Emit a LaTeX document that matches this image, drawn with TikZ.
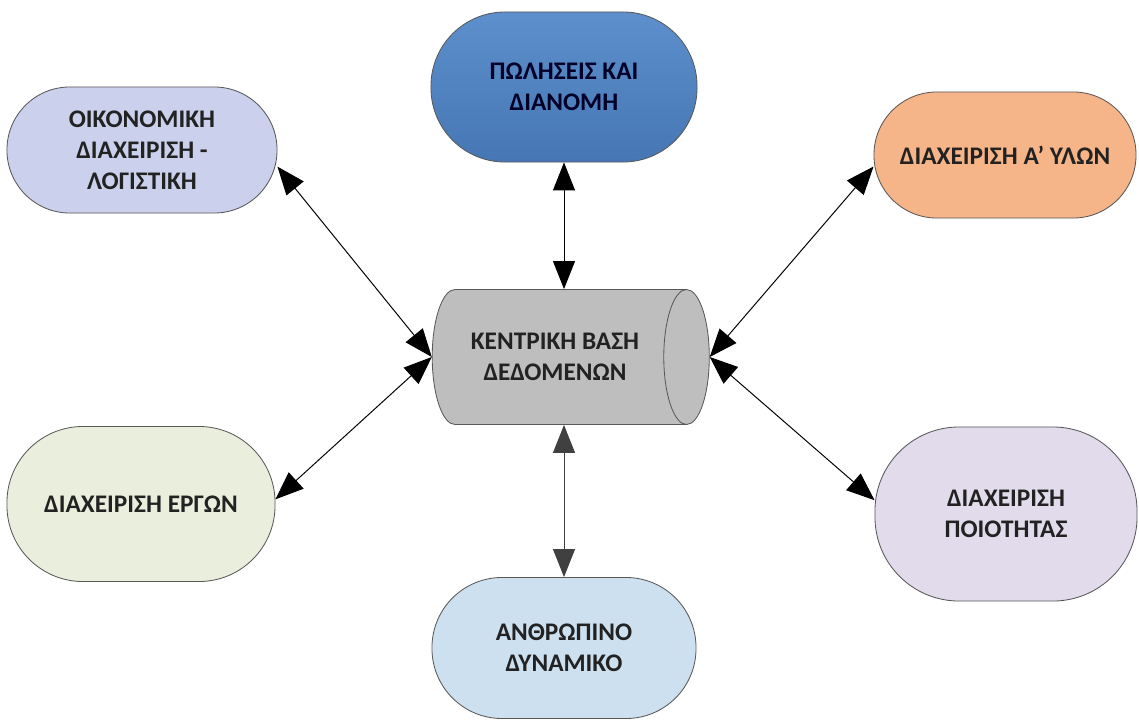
\documentclass[tikz,border=0pt]{standalone}
\usepackage{fontspec}
\setmainfont{Carlito}
\usepackage{tikz}
\usetikzlibrary{positioning,calc}
\usetikzlibrary{shapes.geometric,arrows.meta}

\definecolor{sales-top}{RGB}{92,143,203}
\definecolor{sales-bottom}{RGB}{70,119,180}
\definecolor{finance-fill}{RGB}{203,209,236}
\definecolor{materials-fill}{RGB}{246,181,137}
\definecolor{projects-fill}{RGB}{234,238,221}
\definecolor{quality-fill}{RGB}{226,219,236}
\definecolor{hr-fill}{RGB}{205,224,240}
\definecolor{db-fill}{RGB}{190,190,190}
\definecolor{label-dark}{RGB}{34,34,34}

\begin{document}
\begin{tikzpicture}[x=0.025cm,y=-0.025cm,
    dept/.style={draw=black!65,line width=0.6pt,rounded corners=1.57cm,align=center,
      inner sep=0pt,text=label-dark,font=\fontsize{18}{22}\selectfont\bfseries},
    link/.style={<->,line width=0.7pt,>={Triangle[length=7mm,width=5.5mm]}}]
    \useasboundingbox (0,0) rectangle (1139,726);

    \node (sales) [dept,top color=sales-top,bottom color=sales-bottom,text=black!85!blue,
      rounded corners=1.85cm,minimum width=6.65cm,minimum height=3.75cm]
      at (564,87) {ΠΩΛΗΣΕΙΣ ΚΑΙ\\ΔΙΑΝΟΜΗ};
    \node (finance) [dept,fill=finance-fill,minimum width=6.75cm,minimum height=3.15cm]
      at (142,150) {ΟΙΚΟΝΟΜΙΚΗ\\ΔΙΑΧΕΙΡΙΣΗ -\\ΛΟΓΙΣΤΙΚΗ};
    \node (materials) [dept,fill=materials-fill,minimum width=6.55cm,minimum height=3.15cm]
      at (1005,155) {ΔΙΑΧΕΙΡΙΣΗ Α’ ΥΛΩΝ};
    \node (projects) [dept,fill=projects-fill,rounded corners=1.9cm,
      minimum width=6.7cm,minimum height=3.875cm] at (141,504) {ΔΙΑΧΕΙΡΙΣΗ ΕΡΓΩΝ};
    \node (quality) [dept,fill=quality-fill,rounded corners=2.1cm,
      minimum width=6.55cm,minimum height=4.35cm] at (1006,514) {ΔΙΑΧΕΙΡΙΣΗ\\ΠΟΙΟΤΗΤΑΣ};
    \node (hr) [dept,fill=hr-fill,rounded corners=1.75cm,
      minimum width=6.6cm,minimum height=3.525cm] at (564,648) {ΑΝΘΡΩΠΙΝΟ\\ΔΥΝΑΜΙΚΟ};

    \node (central-db) [cylinder,draw=black!65,line width=0.6pt,fill=db-fill,aspect=0.8,
      minimum width=3.375cm,minimum height=6.925cm,align=center,text=label-dark,
      font=\fontsize{18}{22}\selectfont\bfseries] at (555,357) {ΚΕΝΤΡΙΚΗ ΒΑΣΗ\\ΔΕΔΟΜΕΝΩΝ};

    \draw [link] (sales.south) -- (sales.south |- central-db.north);
    \draw [link,black!75] (hr.north |- central-db.south) -- (hr.north);
    \draw [link] (finance.-7) -- (central-db.west);
    \draw [link] (projects.2) -- (central-db.west);
    \draw [link] (materials.185) -- (central-db.east);
    \draw [link] (quality.174) -- (central-db.east);
  \end{tikzpicture}
\end{document}
